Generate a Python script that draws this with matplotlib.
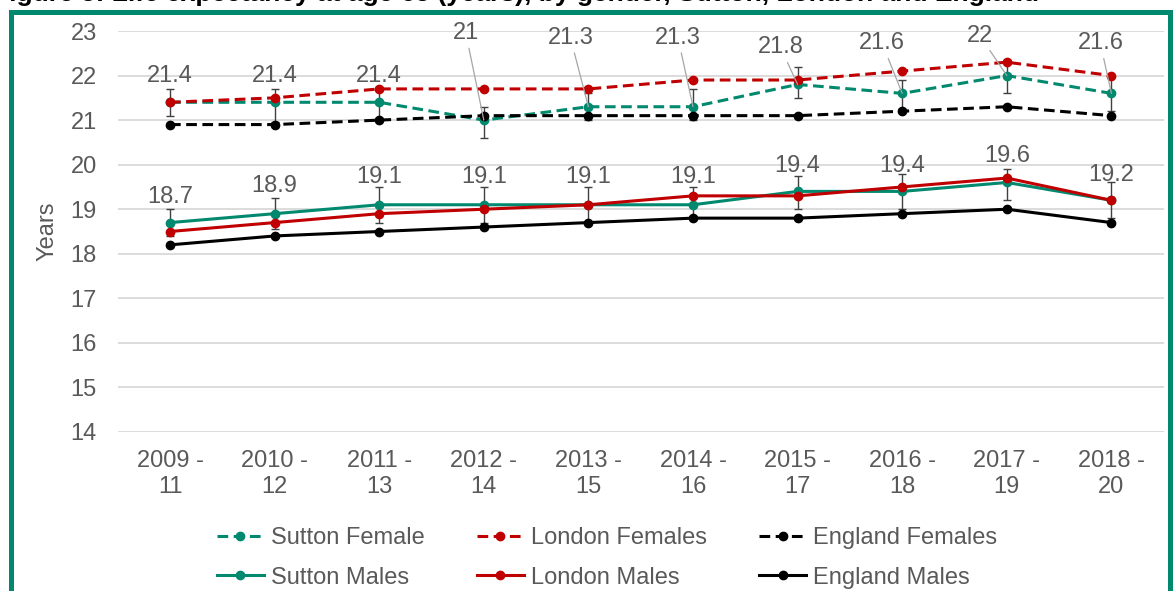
import numpy as np
import matplotlib.pyplot as plt
from matplotlib.patches import Rectangle

plt.rcParams['font.family'] = ['Liberation Sans', 'DejaVu Sans']

# periods (3-year pooled)
periods = ['2009 -\n11', '2010 -\n12', '2011 -\n13', '2012 -\n14', '2013 -\n15',
           '2014 -\n16', '2015 -\n17', '2016 -\n18', '2017 -\n19', '2018 -\n20']

# life expectancy at 65 (years)
sutton_f = [21.4, 21.4, 21.4, 21.0, 21.3, 21.3, 21.8, 21.6, 22.0, 21.6]
london_f = [21.4, 21.5, 21.7, 21.7, 21.7, 21.9, 21.9, 22.1, 22.3, 22.0]
england_f = [20.9, 20.9, 21.0, 21.1, 21.1, 21.1, 21.1, 21.2, 21.3, 21.1]
sutton_m = [18.7, 18.9, 19.1, 19.1, 19.1, 19.1, 19.4, 19.4, 19.6, 19.2]
london_m = [18.5, 18.7, 18.9, 19.0, 19.1, 19.3, 19.3, 19.5, 19.7, 19.2]
england_m = [18.2, 18.4, 18.5, 18.6, 18.7, 18.8, 18.8, 18.9, 19.0, 18.7]

# confidence intervals for Sutton
sutton_f_lo = [21.1, 20.95, 21.05, 20.6, 21.0, 21.0, 21.5, 21.25, 21.6, 21.2]
sutton_f_hi = [21.7, 21.7, 21.75, 21.3, 21.6, 21.7, 22.2, 21.9, 22.35, 22.0]
sutton_m_lo = [18.4, 18.55, 18.7, 18.7, 18.7, 18.8, 19.0, 19.0, 19.2, 18.8]
sutton_m_hi = [19.0, 19.25, 19.5, 19.5, 19.5, 19.5, 19.75, 19.8, 19.9, 19.6]

teal = '#00896E'
red = '#C00000'
black = '#000000'
grey = '#595959'
fs = 17

fig = plt.figure(figsize=(11.75, 5.91), dpi=100)
ax = fig.add_axes([117.7/1175, 1-432/591, 1046/1175, 401/591])

x = np.arange(len(periods))
dash = (3.5, 1.8)

def err(v, lo, hi):
    v = np.array(v); return [v-np.array(lo), np.array(hi)-v]

# sutton (with error bars), london, england - Excel series order
ax.errorbar(x, sutton_f, yerr=err(sutton_f, sutton_f_lo, sutton_f_hi), fmt='none',
            ecolor='#404040', elinewidth=1.0, capsize=3, capthick=1.0, zorder=2)
ax.errorbar(x, sutton_m, yerr=err(sutton_m, sutton_m_lo, sutton_m_hi), fmt='none',
            ecolor='#404040', elinewidth=1.0, capsize=3, capthick=1.0, zorder=2)

lsf, = ax.plot(x, sutton_f, color=teal, lw=2.2, dashes=dash, marker='o', ms=6, zorder=3, label='Sutton Female')
llf, = ax.plot(x, london_f, color=red, lw=2.2, dashes=dash, marker='o', ms=6, zorder=4, label='London Females')
lef, = ax.plot(x, england_f, color=black, lw=2.2, dashes=dash, marker='o', ms=6, zorder=5, label='England Females')
lsm, = ax.plot(x, sutton_m, color=teal, lw=2.2, marker='o', ms=6, zorder=3, label='Sutton Males')
llm, = ax.plot(x, london_m, color=red, lw=2.2, marker='o', ms=6, zorder=4, label='London Males')
lem, = ax.plot(x, england_m, color=black, lw=2.2, marker='o', ms=6, zorder=5, label='England Males')

# data labels (offsets in pixels)
f_dx = [0, 0, 0, -18, -18, -15, -17, -20, -27, -11]
f_dy = [26, 26, 26, 87, 69, 69, 37, 50, 40, 50]
f_leader = [False, False, False, True, True, True, True, True, True, True]
for i, v in enumerate(sutton_f):
    txt = '%g' % v
    ap = dict(arrowstyle='-', color='#A6A6A6', lw=0.9, shrinkA=1, shrinkB=0) if f_leader[i] else None
    ax.annotate(txt, (x[i], v), xytext=(f_dx[i], f_dy[i]), textcoords='offset pixels',
                ha='center', va='center', fontsize=fs, color=grey, arrowprops=ap, zorder=6)

m_dy = [26, 28, 28, 28, 28, 28, 25, 25, 26, 25]
for i, v in enumerate(sutton_m):
    ax.annotate('%g' % v, (x[i], v), xytext=(0, m_dy[i]), textcoords='offset pixels',
                ha='center', va='center', fontsize=fs, color=grey, zorder=6)

ax.set_xlim(-0.5, len(periods)-0.5)
ax.set_ylim(14, 23)
ax.set_yticks(range(14, 24))
ax.set_xticks(x)
ax.set_xticklabels(periods, linespacing=1.25)
ax.tick_params(axis='both', length=0, labelsize=fs, labelcolor=grey)
ax.tick_params(axis='y', pad=15)
ax.tick_params(axis='x', pad=13)
ax.grid(axis='y', color='#D9D9D9', lw=1.3)
ax.set_axisbelow(True)
for s in ax.spines.values():
    s.set_visible(False)
ax.set_ylabel('Years', fontsize=fs, color=grey)
ax.yaxis.set_label_coords(-0.057, 0.5)

handles = [lsf, lsm, llf, llm, lef, lem]
fig.legend(handles, [h.get_label() for h in handles], ncol=3, loc='upper left',
           bbox_to_anchor=(205/1175, 1-515/591), frameon=False, fontsize=fs,
           handlelength=2.0, handletextpad=0.3, columnspacing=2.2, labelspacing=0.76,
           borderpad=0, labelcolor=grey)

# teal frame around the chart
fig.patches.append(Rectangle((10.5/1175, -0.05), (1170-10.5)/1175, 1.05-12.5/591,
                             transform=fig.transFigure, fill=False, ec=teal, lw=3.6))

# title, cut off at top edge
fig.text(-0.006, 1-1.5/591, 'Figure 5: Life expectancy at age 65 (years), by gender, Sutton, London and England',
         fontsize=19, fontweight='bold', color='black', va='baseline', ha='left')

fig.savefig('out.png', dpi=100)
